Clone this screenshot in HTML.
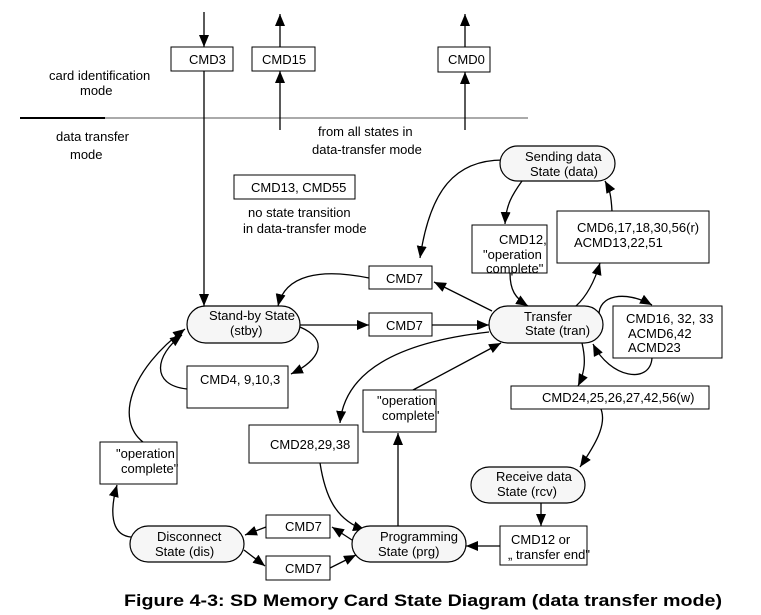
<!DOCTYPE html>
<html><head><meta charset="utf-8"><style>
html,body{margin:0;padding:0;background:#fff;}
svg{display:block;font-family:"Liberation Sans",sans-serif;}
</style></head><body>
<svg width="761" height="615" viewBox="0 0 761 615" xmlns="http://www.w3.org/2000/svg">
<defs>
<marker id="a" viewBox="0 0 12 10" refX="12" refY="5" markerWidth="12" markerHeight="10" markerUnits="userSpaceOnUse" orient="auto"><path d="M0,0 L12,5 L0,10 z" fill="#000"/></marker>
</defs>
<g fill="none" stroke="#000" stroke-width="1.3">
<line x1="20" y1="118" x2="105" y2="118" stroke-width="2"/>
<line x1="105" y1="118" x2="528" y2="118" stroke="#555" stroke-width="1"/>
<line x1="204" y1="12" x2="204" y2="47" marker-end="url(#a)"/>
<line x1="204" y1="71" x2="204" y2="306" marker-end="url(#a)"/>
<line x1="280" y1="130" x2="280" y2="71" marker-end="url(#a)"/>
<line x1="280" y1="47" x2="280" y2="14" marker-end="url(#a)"/>
<line x1="465" y1="130" x2="465" y2="72" marker-end="url(#a)"/>
<line x1="465" y1="47" x2="465" y2="14" marker-end="url(#a)"/>
<path d="M503,160 C455,160 430,190 420,258" marker-end="url(#a)"/>
<path d="M369,278 C320,268 285,275 278,306" marker-end="url(#a)"/>
<path d="M492,311 L434,282" marker-end="url(#a)"/>
<line x1="300" y1="325" x2="369" y2="325" marker-end="url(#a)"/>
<line x1="432" y1="325" x2="489" y2="325" marker-end="url(#a)"/>
<path d="M300,327 C330,340 320,360 291,374" marker-end="url(#a)"/>
<path d="M187,389 C150,385 155,355 182,335" marker-end="url(#a)"/>
<path d="M522,181 C512,195 506,205 505,224" marker-end="url(#a)"/>
<path d="M510,273 C510,290 515,298 528,306" marker-end="url(#a)"/>
<path d="M576,306 C588,295 595,280 600,263" marker-end="url(#a)"/>
<path d="M612,211 C611,195 610,190 605,181" marker-end="url(#a)"/>
<path d="M599,316 C598,295 625,290 652,305" marker-end="url(#a)"/>
<path d="M652,358 C650,385 610,378 593,344" marker-end="url(#a)"/>
<path d="M582,343 C586,360 585,372 578,386" marker-end="url(#a)"/>
<path d="M601,409 C607,425 595,445 580,467" marker-end="url(#a)"/>
<line x1="541" y1="503" x2="541" y2="526" marker-end="url(#a)"/>
<line x1="500" y1="546" x2="466" y2="546" marker-end="url(#a)"/>
<path d="M489,332 C400,342 345,370 340,423" marker-end="url(#a)"/>
<path d="M320,463 C325,495 335,520 365,530" marker-end="url(#a)"/>
<line x1="398" y1="526" x2="398" y2="433" marker-end="url(#a)"/>
<line x1="413" y1="390" x2="501" y2="343" marker-end="url(#a)"/>
<path d="M352,540 L332,527" marker-end="url(#a)"/>
<line x1="266" y1="527" x2="245" y2="535" marker-end="url(#a)"/>
<line x1="244" y1="550" x2="265" y2="566" marker-end="url(#a)"/>
<line x1="330" y1="568" x2="356" y2="555" marker-end="url(#a)"/>
<path d="M131,537 C110,535 110,510 117,485" marker-end="url(#a)"/>
<path d="M143,442 C115,420 130,370 185,329" marker-end="url(#a)"/>
</g>
<g fill="#f6f6f6" stroke="#000" stroke-width="1.2">
<rect x="187" y="306" width="113" height="37" rx="18.5"/>
<rect x="489" y="306" width="114" height="37" rx="18.5"/>
<rect x="500" y="146" width="115" height="35" rx="17.5"/>
<rect x="471" y="467" width="114" height="36" rx="18"/>
<rect x="130" y="526" width="114" height="36" rx="18"/>
<rect x="352" y="526" width="114" height="36" rx="18"/>
</g>
<g fill="#fff" stroke="#000" stroke-width="1">
<rect x="171" y="47" width="62" height="24"/>
<rect x="252" y="47" width="63" height="24"/>
<rect x="438" y="47" width="52" height="25"/>
<rect x="234" y="175" width="121" height="24"/>
<rect x="369" y="266" width="63" height="23"/>
<rect x="369" y="313" width="63" height="23"/>
<rect x="472" y="225" width="75" height="48"/>
<rect x="557" y="211" width="152" height="52"/>
<rect x="613" y="306" width="109" height="52"/>
<rect x="511" y="386" width="198" height="23"/>
<rect x="187" y="366" width="101" height="42"/>
<rect x="249" y="425" width="109" height="38"/>
<rect x="363" y="390" width="73" height="42"/>
<rect x="100" y="442" width="77" height="42"/>
<rect x="266" y="515" width="64" height="23"/>
<rect x="266" y="556" width="64" height="24"/>
<rect x="500" y="526" width="87" height="39"/>
</g>
<g font-size="13" fill="#000">
<text x="189" y="64">CMD3</text>
<text x="262" y="64">CMD15</text>
<text x="448" y="64">CMD0</text>
<text x="49" y="80">card identification</text>
<text x="80" y="95">mode</text>
<text x="56" y="141">data transfer</text>
<text x="70" y="159">mode</text>
<text x="318" y="136">from all states in</text>
<text x="312" y="154">data-transfer mode</text>
<text x="251" y="192">CMD13, CMD55</text>
<text x="248" y="217">no state transition</text>
<text x="243" y="233">in data-transfer mode</text>
<text x="386" y="283">CMD7</text>
<text x="386" y="330">CMD7</text>
<text x="209" y="320">Stand-by State</text>
<text x="230" y="335">(stby)</text>
<text x="524" y="321">Transfer</text>
<text x="525" y="335">State (tran)</text>
<text x="525" y="161">Sending data</text>
<text x="530" y="176">State (data)</text>
<text x="499" y="244">CMD12,</text>
<text x="483" y="259">"operation</text>
<text x="486" y="273">complete"</text>
<text x="577" y="232">CMD6,17,18,30,56(r)</text>
<text x="574" y="247">ACMD13,22,51</text>
<text x="626" y="323">CMD16, 32, 33</text>
<text x="628" y="338">ACMD6,42</text>
<text x="628" y="352">ACMD23</text>
<text x="542" y="402">CMD24,25,26,27,42,56(w)</text>
<text x="200" y="384">CMD4, 9,10,3</text>
<text x="270" y="449">CMD28,29,38</text>
<text x="377" y="405">"operation</text>
<text x="382" y="420">complete"</text>
<text x="116" y="458">"operation</text>
<text x="121" y="473">complete"</text>
<text x="496" y="481">Receive data</text>
<text x="497" y="496">State (rcv)</text>
<text x="157" y="541">Disconnect</text>
<text x="155" y="556">State (dis)</text>
<text x="380" y="541">Programming</text>
<text x="378" y="556">State (prg)</text>
<text x="285" y="531">CMD7</text>
<text x="285" y="573">CMD7</text>
<text x="511" y="544">CMD12 or</text>
<text x="508" y="559">„ transfer end"</text>
</g>
<text x="124" y="606" font-size="17" font-weight="bold" textLength="598" lengthAdjust="spacingAndGlyphs">Figure 4-3: SD Memory Card State Diagram (data transfer mode)</text>
</svg>
</body></html>
